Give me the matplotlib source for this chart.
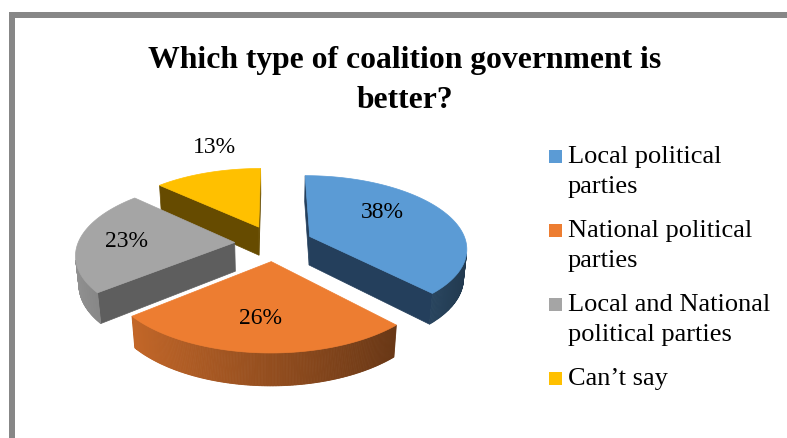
import numpy as np
import matplotlib
matplotlib.use("Agg")
import matplotlib.pyplot as plt
from matplotlib.patches import Polygon, Rectangle
from matplotlib.colors import to_rgb

# ---- data ----
categories = ["Local political\nparties",
              "National political\nparties",
              "Local and National\npolitical parties",
              "Can\u2019t say"]
values = [38, 26, 23, 13]
title_lines = ["Which type of coalition government is", "better?"]

# ---- style ----
top_colors = ["#5B9BD5", "#ED7D31", "#A5A5A5", "#FFC000"]
cut_colors = ["#243F5C", "#6A3714", "#5E5E5E", "#664B00"]
serif = "Liberation Serif"

W, H = 787, 439
fig = plt.figure(figsize=(W / 100, H / 100), dpi=100)
ax = fig.add_axes([0, 0, 1, 1])
ax.set_xlim(0, W)
ax.set_ylim(H, 0)
ax.axis("off")

# chart frame (top and left edges)
ax.add_patch(Rectangle((9, 13), W, 6, facecolor="#878787", edgecolor="none"))
ax.add_patch(Rectangle((9, 13), 6, H, facecolor="#878787", edgecolor="none"))

# ---- 3-D pie projection ----
S = 154.0               # pixels per unit radius
alpha = np.radians(29)  # viewing elevation
D = 6.0                 # perspective distance
h = 0.21                # slice thickness
explode = 0.25
cx, cy = 273.8, 272.8
sa, ca = np.sin(alpha), np.cos(alpha)
cam = np.array([0.0, -D * ca, D * sa])


def proj(X, Y, Z):
    X, Y, Z = np.broadcast_arrays(np.asarray(X, float), np.asarray(Y, float),
                                  np.asarray(Z, float))
    v = Y * sa + Z * ca
    w = Y * ca - Z * sa
    s = D / (D + w)
    return np.column_stack([cx + S * X * s, cy - S * v * s])


def shade(color, f):
    return tuple(np.clip(np.array(to_rgb(color)) * f, 0, 1))


def rim_factor(theta):
    nx = np.sin(theta)
    return np.interp(nx, [-1, 0, 1], [0.88, 0.62, 0.36])


total = float(sum(values))
bounds = np.concatenate([[0], np.cumsum(values)]) / total * 2 * np.pi
slices = []
for i in range(len(values)):
    t1, t2 = bounds[i], bounds[i + 1]
    mid = 0.5 * (t1 + t2)
    ox, oy = explode * np.sin(mid), explode * np.cos(mid)
    slices.append((i, t1, t2, ox, oy))

# painter's order: farthest slice first
slices.sort(key=lambda s: -s[4])

for i, t1, t2, ox, oy in slices:
    th = np.linspace(t1, t2, 200)
    rx, ry = ox + np.sin(th), oy + np.cos(th)
    top = proj(rx, ry, h)
    bot = proj(rx, ry, 0)
    apex_t = proj(ox, oy, h)[0]
    apex_b = proj(ox, oy, 0)[0]

    # radial cut faces (back-face culled)
    for t, sign in ((t1, -1), (t2, 1)):
        n = np.array([sign * np.cos(t), -sign * np.sin(t), 0.0])
        p = np.array([ox, oy, 0.0])
        if n @ (cam - p) > 0:
            ex, ey = ox + np.sin(t), oy + np.cos(t)
            quad = np.vstack([apex_t, proj(ex, ey, h)[0], proj(ex, ey, 0)[0], apex_b])
            ax.add_patch(Polygon(quad, closed=True, facecolor=cut_colors[i],
                                 edgecolor=cut_colors[i], lw=0.5, zorder=2))

    # outer rim wall, shaded segment by segment
    vis = np.sin(th) * (0 - rx) + np.cos(th) * (cam[1] - ry) > 0
    for k in range(len(th) - 1):
        if vis[k] and vis[k + 1]:
            c = shade(top_colors[i], rim_factor(0.5 * (th[k] + th[k + 1])))
            quad = np.vstack([top[k], top[k + 1], bot[k + 1], bot[k]])
            ax.add_patch(Polygon(quad, closed=True, facecolor=c, edgecolor=c,
                                 lw=0.6, zorder=2))

    # top face
    face = np.vstack([apex_t, top])
    ax.add_patch(Polygon(face, closed=True, facecolor=top_colors[i],
                         edgecolor=top_colors[i], lw=0.5, zorder=2))

# data labels
label_pos = [(382, 213), (261, 319), (127, 242), (214, 148)]
for v, (lx, ly) in zip(values, label_pos):
    ax.text(lx, ly, f"{v}%", fontsize=17, family=serif, ha="center",
            va="center", color="black", zorder=5)

# title
for k, line in enumerate(title_lines):
    ax.text(405, 68 + 40 * k, line, fontsize=22.8, family=serif,
            weight="bold", ha="center", va="baseline", color="black")

# legend
base = 163
for lab, col in zip(categories, top_colors):
    ax.add_patch(Rectangle((549, base - 12), 13, 13, facecolor=col,
                           edgecolor="none"))
    parts = lab.split("\n")
    for j, part in enumerate(parts):
        ax.text(568, base + 30 * j, part, fontsize=19, family=serif,
                ha="left", va="baseline", color="black")
    base += 30 * len(parts) + 14

fig.savefig("out.png", dpi=100)
